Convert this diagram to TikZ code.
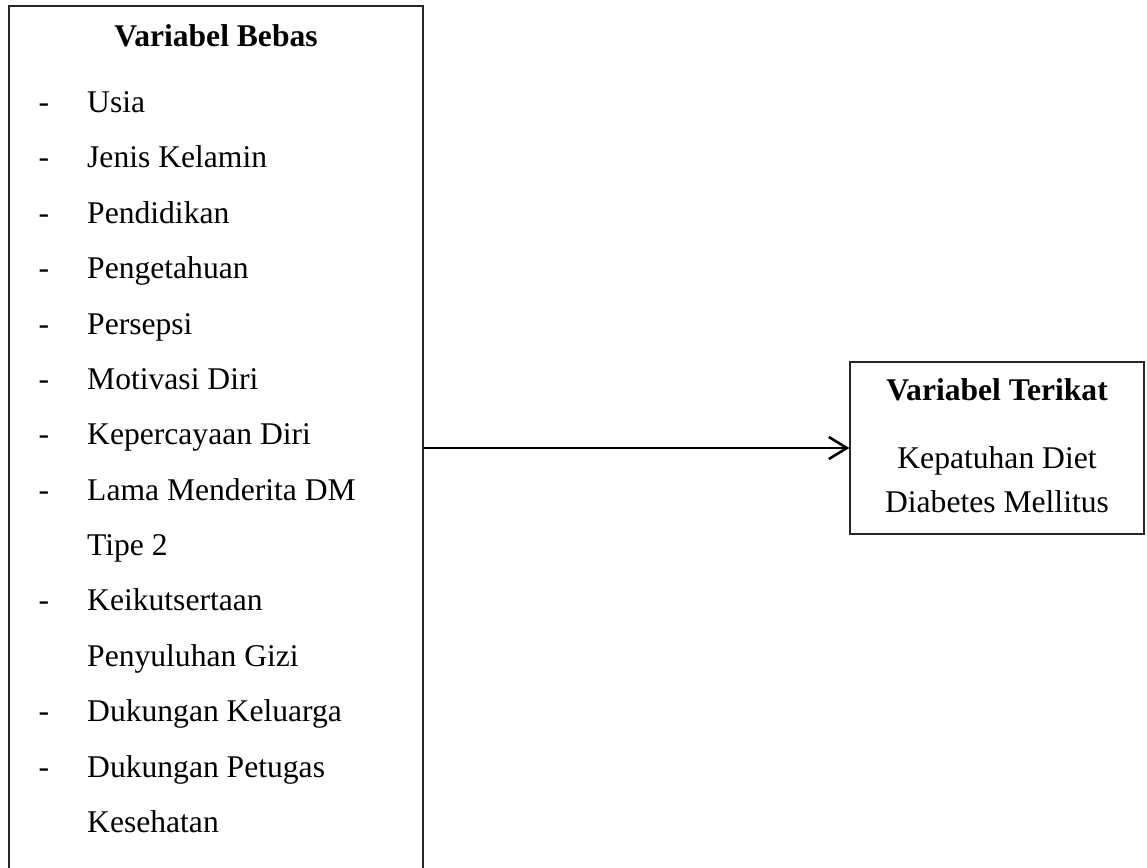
\documentclass[tikz,border=0pt]{standalone}
\usepackage{fontspec}
\setmainfont{Liberation Serif}
\usetikzlibrary{arrows.meta}
\begin{document}
\begin{tikzpicture}[x=1pt,y=-1pt,
  txt/.style={inner sep=0pt, font=\fontsize{31.6pt}{38pt}\selectfont},
  boxed/.style={draw=black!85, line width=1.3pt, inner sep=0pt},
  item/.style={txt, anchor=base west},
  dashmark/.style={txt, anchor=base},
  arr/.style={line width=2.6pt, -{Straight Barb[length=18pt,width=22pt,line width=2.6pt]}}]
\useasboundingbox (0,0) rectangle (1147,867);
\clip (0,0) rectangle (1147,867);
\fill[white] (0,0) rectangle (1147,867);
% boxes
\node[boxed, minimum width=414pt, minimum height=884pt] (bebas) at (216,448) {};
\node[boxed, minimum width=294pt, minimum height=172pt] (terikat) at (997,448) {};
% left box title
\node[txt, anchor=base, font=\fontsize{31.6pt}{38pt}\selectfont\bfseries] (tb) at (216,47) {Variabel Bebas};
% items
\foreach \i/\y/\t/\d in {1/112/Usia/1, 2/167/Jenis Kelamin/1, 3/223/Pendidikan/1, 4/278/Pengetahuan/1, 5/334/Persepsi/1, 6/389/Motivasi Diri/1, 7/444/Kepercayaan Diri/1, 8/500/Lama Menderita DM/1, 9/555/Tipe 2/0, 10/610/Keikutsertaan/1, 11/666/Penyuluhan Gizi/0, 12/721/Dukungan Keluarga/1, 13/777/Dukungan Petugas/1, 14/832/Kesehatan/0}{
  \node[item] (it\i) at (87,\y) {\t};
  \ifnum\d=1 \node[dashmark] (d\i) at (44,\y) {-};\fi
}
% right box texts
\node[txt, anchor=base, font=\fontsize{31.6pt}{38pt}\selectfont\bfseries] (tt) at (997,400) {Variabel Terikat};
\node[txt, anchor=base] (k1) at (997,468) {Kepatuhan Diet};
\node[txt, anchor=base] (k2) at (997,512) {Diabetes Mellitus};
% connector
\draw[arr] (bebas.east) -- (terikat.west);
\end{tikzpicture}
\end{document}
